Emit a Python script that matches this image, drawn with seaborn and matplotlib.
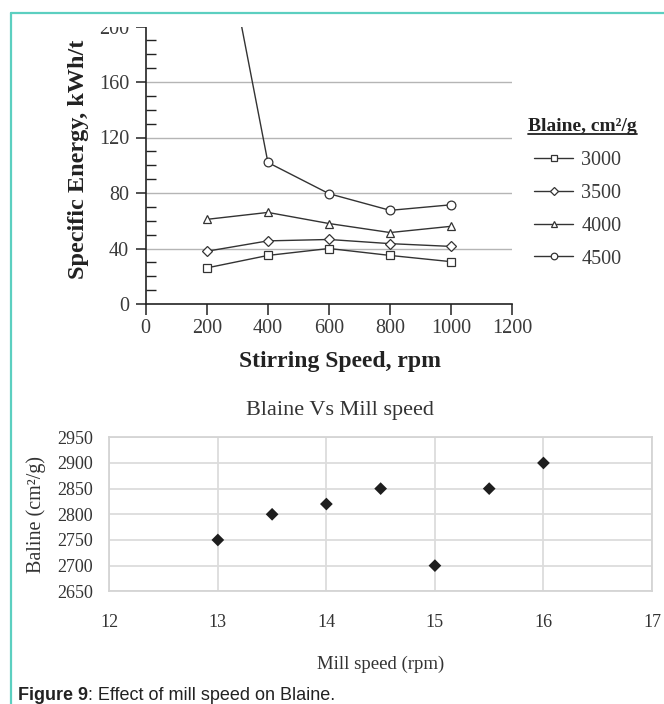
import numpy as np
import pandas as pd
import seaborn as sns
import matplotlib
matplotlib.use("Agg")
import matplotlib.pyplot as plt
from matplotlib.lines import Line2D
from matplotlib.patches import Rectangle
from matplotlib.ticker import MultipleLocator

# ---------------- data ----------------
stirring_speed = [200, 400, 600, 800, 1000]
energy_3000 = [26, 35, 40, 35, 30.5]
energy_3500 = [38, 45.5, 46.5, 43.5, 41.5]
energy_4000 = [61, 66, 58, 51.5, 56]
energy_4500 = [330, 102, 79.5, 67.5, 71.5]
blaine_levels = ["3000", "3500", "4000", "4500"]
blaine_markers = ["s", "D", "^", "o"]

mill_speed = [13, 13.5, 14, 14.5, 15, 15.5, 16]
blaine_value = [2750, 2800, 2820, 2850, 2700, 2850, 2900]

top_xticks = [0, 200, 400, 600, 800, 1000, 1200]
top_yticks = [0, 40, 80, 120, 160, 200]
bot_xticks = [12, 13, 14, 15, 16, 17]
bot_yticks = [2650, 2700, 2750, 2800, 2850, 2900, 2950]

sns.set_theme(style="white")
plt.rcParams["font.family"] = ["Liberation Serif", "DejaVu Serif"]

W, H = 664, 704
fig = plt.figure(figsize=(W / 100, H / 100), dpi=100)
fig.patch.set_facecolor("white")


def fx(px):
    return px / W


def fy(py):
    return 1 - py / H


# ---------------- top chart ----------------
ax1 = fig.add_axes([fx(145.7), fy(304), fx(512.3) - fx(145.7), fy(26.5) - fy(304)])
series = [energy_3000, energy_3500, energy_4000, energy_4500]
for vals, mk in zip(series, blaine_markers):
    df = pd.DataFrame({"speed": stirring_speed, "energy": vals})
    sns.lineplot(data=df, x="speed", y="energy", ax=ax1, color="#333333",
                 marker=mk, markersize=6.3 if mk != "D" else 5.3,
                 markerfacecolor="white", markeredgecolor="#333333",
                 markeredgewidth=0.9, linewidth=1.0, legend=False, zorder=3)

ax1.set_xlim(0, 1200)
ax1.set_ylim(0, 200)
ax1.set_xticks(top_xticks)
ax1.set_yticks(top_yticks)
ax1.yaxis.set_minor_locator(MultipleLocator(10))
for yv in [40, 80, 120, 160]:
    ax1.axhline(yv, color="#b5b5b5", lw=1.0, zorder=1)
ax1.grid(False)
for s in ["top", "right"]:
    ax1.spines[s].set_visible(False)
for s in ["left", "bottom"]:
    ax1.spines[s].set_color("#222222")
    ax1.spines[s].set_linewidth(1.2)
ax1.tick_params(axis="y", which="major", direction="out", length=7, width=1.1,
                color="#222222", left=True, labelsize=14.5, labelcolor="#3a3a3a", pad=5)
ax1.tick_params(axis="y", which="minor", direction="in", length=7, width=1.0,
                color="#222222", left=True)
ax1.tick_params(axis="x", which="major", direction="out", length=8, width=1.1,
                color="#222222", bottom=True, labelsize=14.5, labelcolor="#3a3a3a", pad=3)
ax1.set_xlabel("Stirring Speed, rpm", fontsize=17, fontweight="bold", color="#222222")
ax1.set_ylabel("Specific Energy, kWh/t", fontsize=17.5, fontweight="bold", color="#222222")
ax1.xaxis.set_label_coords((340 - 145.7) / 366.6, -(351 - 304) / 277.5)
ax1.yaxis.set_label_coords((89 - 145.7) / 366.6, 0.52)

leg = ax1.legend(ax1.lines[:4], blaine_levels, loc="upper left",
                 bbox_to_anchor=(fx(524), fy(141)), bbox_transform=fig.transFigure,
                 frameon=False, fontsize=14.5, handlelength=1.95, handletextpad=0.4,
                 labelspacing=0.68, borderpad=0, markerscale=0.75)
for t in leg.get_texts():
    t.set_color("#3a3a3a")

title_txt = fig.text(fx(528), fy(131), "Blaine, cm²/g", fontsize=14, fontweight="bold",
                     color="#222222", ha="left", va="baseline")
fig.canvas.draw()
bb = title_txt.get_window_extent(renderer=fig.canvas.get_renderer())
fig.add_artist(Line2D([bb.x0 / W, bb.x1 / W], [fy(134), fy(134)], transform=fig.transFigure,
                      color="#222222", lw=1.3))

# ---------------- bottom chart ----------------
ax2 = fig.add_axes([fx(109.3), fy(591.3), fx(652) - fx(109.3), fy(437.3) - fy(591.3)])
sns.scatterplot(x=mill_speed, y=blaine_value, ax=ax2, marker="D", s=42,
                color="#1e1e1e", edgecolor="none", zorder=3)
ax2.set_xlim(12, 17)
ax2.set_ylim(2650, 2950)
ax2.set_xticks(bot_xticks)
ax2.set_yticks(bot_yticks)
ax2.grid(True, color="#dcdcdc", lw=1.3)
for s in ax2.spines.values():
    s.set_color("#d4d4d4")
    s.set_linewidth(1.3)
ax2.tick_params(axis="both", length=0, labelsize=13, labelcolor="#333333")
ax2.tick_params(axis="x", pad=16)
ax2.tick_params(axis="y", pad=12)
ax2.set_xlabel("Mill speed (rpm)", fontsize=13.5, color="#333333")
ax2.set_ylabel("Baline (cm²/g)", fontsize=14.5, color="#333333")
ax2.xaxis.set_label_coords(0.5, -(656 - 591.3) / 154)
ax2.yaxis.set_label_coords((46 - 109.3) / 542.7, 0.5)

fig.text(fx(340), fy(410), "Blaine Vs Mill speed", fontsize=16, color="#333333",
         ha="center", va="center")

# ---------------- caption ----------------
t1 = fig.text(fx(18), fy(700), "Figure 9", fontsize=13, fontweight="bold",
              family=["Liberation Sans", "DejaVu Sans"], color="#222222",
              ha="left", va="baseline")
ax2.annotate(": Effect of mill speed on Blaine.", xy=(1, 0), xycoords=t1,
             fontsize=13, family=["Liberation Sans", "DejaVu Sans"], color="#222222",
             ha="left", va="bottom", annotation_clip=False)

# ---------------- crop mask and frame ----------------
fig.add_artist(Rectangle((fx(12), fy(27)), 1 - fx(12), fy(14) - fy(27),
                         transform=fig.transFigure, facecolor="white",
                         edgecolor="none", zorder=5))
teal = "#5ccfc0"
fig.add_artist(Line2D([fx(11), fx(11)], [0, fy(13)], transform=fig.transFigure,
                      color=teal, lw=1.6, zorder=6))
fig.add_artist(Line2D([fx(11), 1], [fy(13), fy(13)], transform=fig.transFigure,
                      color=teal, lw=1.6, zorder=6))

fig.savefig("out.png", dpi=100, facecolor="white")
